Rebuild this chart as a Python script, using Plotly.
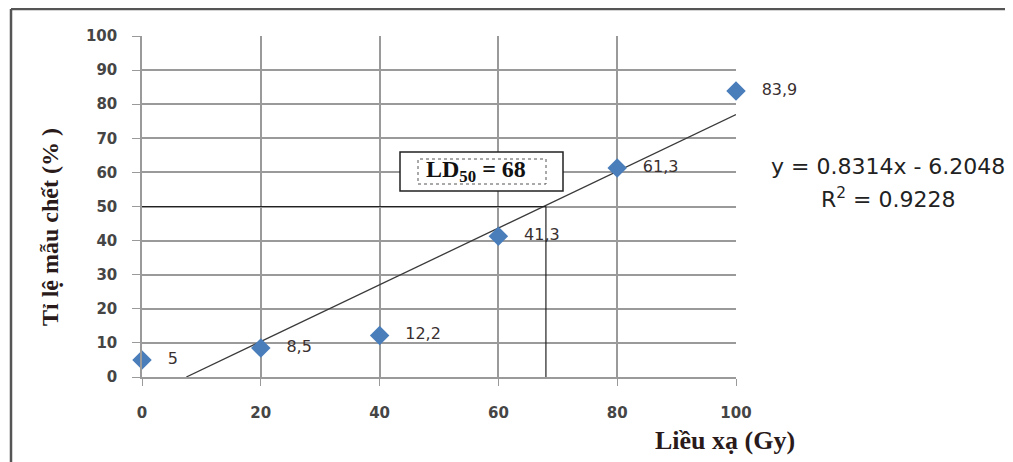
import plotly.graph_objects as go

dose = [0, 20, 40, 60, 80, 100]
mortality = [5, 8.5, 12.2, 41.3, 61.3, 83.9]
labels = ["5", "8,5", "12,2", "41,3", "61,3", "83,9"]
slope = 0.8314
intercept = -6.2048
r2 = 0.9228
ld50 = 68
x_ticks = [0, 20, 40, 60, 80, 100]
y_ticks = [0, 10, 20, 30, 40, 50, 60, 70, 80, 90, 100]

x0 = -intercept / slope
trend_x = [x0, 100]
trend_y = [slope * x + intercept for x in trend_x]

# page offset of 8px (browser body margin) compensated: figure coords = page - 8
OFF = 8
W, H = 1013 - OFF, 462 - OFF
L, R, T, B = 142 - OFF, 736 - OFF, 36 - OFF, 377 - OFF
PW, PH = R - L, B - T


def px(xp):
    return (xp - OFF - L) / PW


def py(yp):
    return (B - (yp - OFF)) / PH


fig = go.Figure()
fig.add_trace(go.Scatter(x=trend_x, y=trend_y, mode="lines",
                         line=dict(color="#3a3a3a", width=1.3), hoverinfo="skip"))
fig.add_trace(go.Scatter(x=dose, y=mortality, mode="markers+text",
                         marker=dict(symbol="diamond", size=15, color="#4a7ebb"),
                         text=["   " + t for t in labels], textposition="middle right",
                         textfont=dict(family="DejaVu Sans", size=16, color="#3a3030"),
                         cliponaxis=False))

grid = "#9a9a9a"
tickfont = dict(family="DejaVu Sans", size=15, color="#454545", weight="bold")
fig.update_layout(
    width=W, height=H,
    margin=dict(l=L, r=W - R, t=T, b=H - B),
    paper_bgcolor="white", plot_bgcolor="white",
    showlegend=False,
    xaxis=dict(range=[0, 100], tickvals=x_ticks, showgrid=True, gridcolor=grid, gridwidth=1.5,
               showline=True, linecolor=grid, linewidth=1.5, zeroline=False,
               ticks="outside", ticklen=7, tickcolor=grid, ticklabelstandoff=14,
               tickfont=tickfont),
    yaxis=dict(range=[0, 100], tickvals=y_ticks, showgrid=True, gridcolor=grid, gridwidth=1.5,
               showline=True, linecolor=grid, linewidth=1.5, zeroline=False,
               ticks="outside", ticklen=8, tickcolor=grid, ticklabelstandoff=12,
               tickfont=tickfont),
)

# LD50 guide lines
fig.add_shape(type="line", xref="x", yref="y", x0=0, x1=ld50, y0=50, y1=50,
              line=dict(color="#222222", width=1.2))
fig.add_shape(type="line", xref="x", yref="y", x0=ld50, x1=ld50, y0=0, y1=50,
              line=dict(color="#222222", width=1.2))

# LD50 box
fig.add_shape(type="rect", xref="paper", yref="paper",
              x0=px(400), x1=px(563), y0=py(191), y1=py(152),
              line=dict(color="#222222", width=1.5), fillcolor="white")
fig.add_shape(type="rect", xref="paper", yref="paper",
              x0=px(418), x1=px(546), y0=py(184), y1=py(159),
              line=dict(color="#555555", width=1, dash="dot"))

C = dict(showarrow=False, xref="paper", yref="paper", xanchor="center", yanchor="middle")
fig.add_annotation(x=px(476), y=py(171),
                   text="<b>LD<sub>50</sub> = %d</b>" % ld50,
                   font=dict(family="Liberation Serif", size=24, color="#111111"), **C)

# Equation
fig.add_annotation(x=px(888), y=py(166),
                   text="y = %.4fx - %.4f" % (slope, -intercept),
                   font=dict(family="DejaVu Sans", size=22, color="#222222"), **C)
fig.add_annotation(x=px(888), y=py(198),
                   text="R<sup>2</sup> = %.4f" % r2,
                   font=dict(family="DejaVu Sans", size=22, color="#222222"), **C)

# Axis titles
fig.add_annotation(x=px(50), y=py(227), textangle=-90,
                   text="<b>Tỉ lệ mẫu chết (% )</b>",
                   font=dict(family="Liberation Serif", size=24, color="#2a1a1a"), **C)
fig.add_annotation(x=px(725), y=py(440),
                   text="<b>Liều xạ (Gy)</b>",
                   font=dict(family="Liberation Serif", size=26, color="#2a1a1a"), **C)

# Frame border (top and left)
fig.add_shape(type="line", xref="paper", yref="paper",
              x0=px(11), x1=px(1013), y0=py(9), y1=py(9),
              line=dict(color="#555555", width=2.5))
fig.add_shape(type="line", xref="paper", yref="paper",
              x0=px(11), x1=px(11), y0=py(9), y1=py(470),
              line=dict(color="#555555", width=2.5))

fig.write_html("out.html")
